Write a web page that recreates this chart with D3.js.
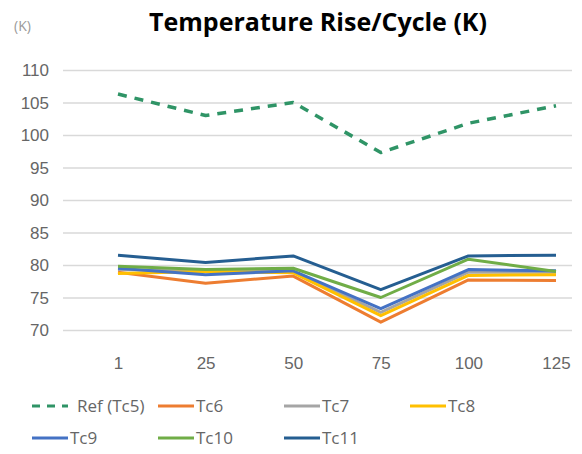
<!DOCTYPE html>
<html>
<head>
<meta charset="utf-8">
<script src="https://cdn.jsdelivr.net/npm/d3@7"></script>
<style>
  body { margin: 0; background: #fff; }
  svg { display: block; font-family: "Open Sans", sans-serif; }
  .tick text { fill: #666; font-size: 17px; }
  .legend text { fill: #666; font-size: 17px; }
</style>
</head>
<body>
<svg id="chart" width="582" height="454"></svg>
<script>
var cycles = ["1", "25", "50", "75", "100", "125"];
var seriesNames = ["Ref (Tc5)", "Tc6", "Tc7", "Tc8", "Tc9", "Tc10", "Tc11"];
var seriesColors = ["#2f9466", "#ed7d31", "#a5a5a5", "#ffc000", "#4472c4", "#70ad47", "#255e91"];
var ref = [106.3, 103.0, 105.0, 97.3, 101.8, 104.5];
var tc6 = [78.9, 77.2, 78.3, 71.2, 77.7, 77.6];
var tc7 = [79.3, 79.0, 79.0, 72.7, 78.9, 78.9];
var tc8 = [78.7, 79.0, 78.8, 72.2, 78.4, 78.5];
var tc9 = [79.5, 78.5, 79.1, 73.3, 79.3, 79.1];
var tc10 = [79.8, 79.3, 79.5, 75.0, 80.9, 79.0];
var tc11 = [81.5, 80.4, 81.4, 76.2, 81.4, 81.5];
var yTicks = [70, 75, 80, 85, 90, 95, 100, 105, 110];

var allSeries = [ref, tc6, tc7, tc8, tc9, tc10, tc11];
var data = seriesNames.map(function(name, i) {
  return {name: name, color: seriesColors[i], dashed: i === 0, values: allSeries[i]};
});

var svg = d3.select("#chart");

var x = d3.scalePoint()
    .domain(cycles)
    .range([118, 556]);

var y = d3.scaleLinear()
    .domain([70, 110])
    .range([330, 70]);

// title
svg.append("text")
    .attr("x", 318)
    .attr("y", 31)
    .attr("text-anchor", "middle")
    .style("font-family", "'Open Sans', sans-serif")
    .style("font-weight", "700")
    .style("font-size", "25px")
    .style("fill", "#000")
    .text("Temperature Rise/Cycle (K)");

svg.append("text")
    .attr("x", 14)
    .attr("y", 31)
    .style("font-size", "14px")
    .style("fill", "#9a9a9a")
    .text("(K)");

// y axis + gridlines
var yAxis = svg.append("g")
    .attr("transform", "translate(63,0)")
    .call(d3.axisLeft(y).tickValues(yTicks).tickSize(-509).tickPadding(14));
yAxis.select(".domain").remove();
yAxis.selectAll(".tick line").attr("stroke", "#d9d9d9").attr("stroke-width", 1.5);
yAxis.selectAll(".tick text").attr("dy", "0.35em");

// x axis
var xAxis = svg.append("g")
    .attr("transform", "translate(0,349)")
    .call(d3.axisBottom(x).tickSize(0).tickPadding(8));
xAxis.select(".domain").remove();

var line = d3.line()
    .x(function(d, i) { return x(cycles[i]); })
    .y(function(d) { return y(d); });

svg.append("g").selectAll("path")
    .data(data)
  .enter().append("path")
    .attr("fill", "none")
    .attr("stroke", function(d) { return d.color; })
    .attr("stroke-width", function(d) { return d.dashed ? 3.5 : 3; })
    .attr("stroke-dasharray", function(d) { return d.dashed ? "9,8" : null; })
    .attr("stroke-linejoin", "round")
    .attr("d", function(d) { return line(d.values); });

// legend
var legend = svg.append("g").attr("class", "legend");
var item = legend.selectAll("g")
    .data(data)
  .enter().append("g")
    .attr("transform", function(d, i) {
      var col = i < 4 ? i : i - 4, row = i < 4 ? 0 : 1;
      return "translate(" + (32 + col * 126) + "," + (406 + row * 32) + ")";
    });

item.append("line")
    .attr("x1", 0)
    .attr("x2", 36)
    .attr("stroke", function(d) { return d.color; })
    .attr("stroke-width", 3)
    .attr("stroke-dasharray", function(d) { return d.dashed ? "8,7" : null; });

item.append("text")
    .attr("x", function(d) { return d.dashed ? 45 : 38; })
    .attr("dy", "0.35em")
    .text(function(d) { return d.name; });
</script>
</body>
</html>
